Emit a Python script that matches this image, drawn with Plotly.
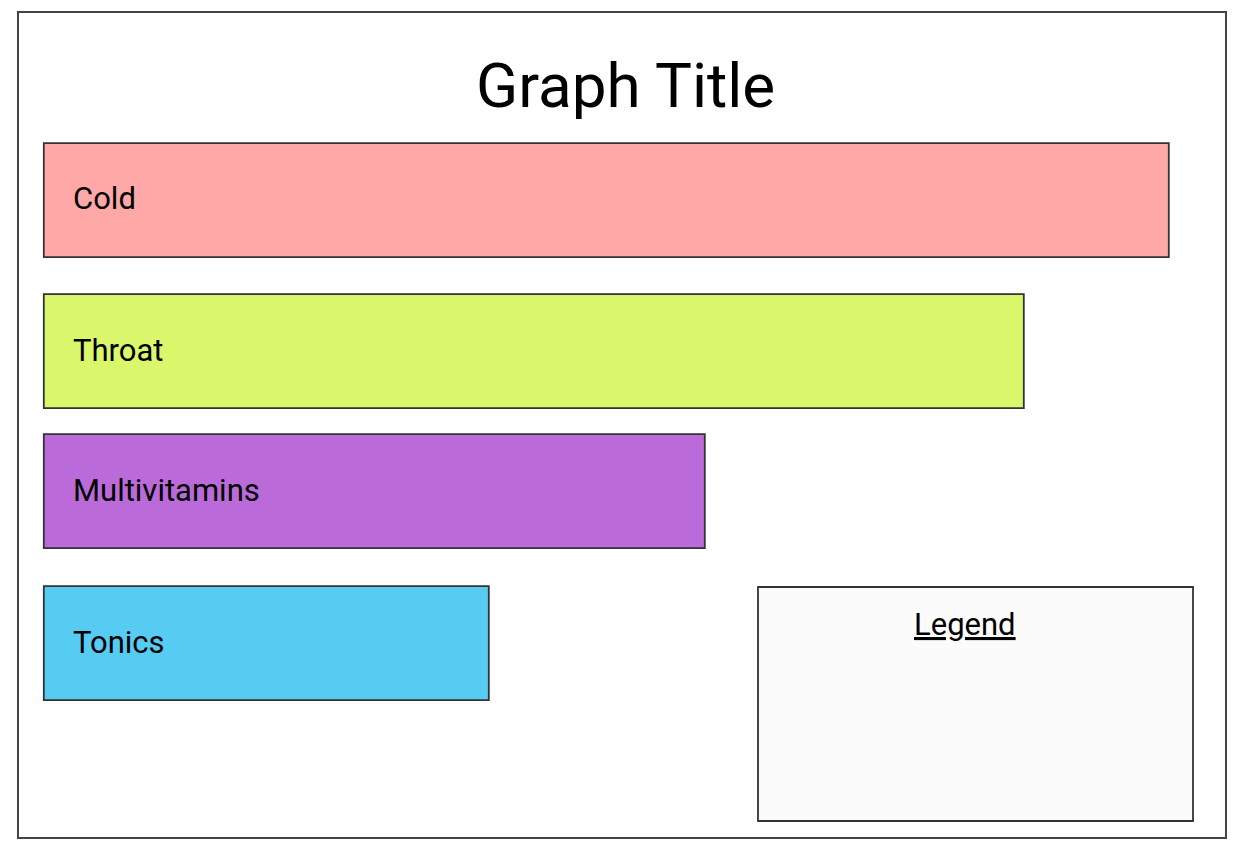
import plotly.graph_objects as go

# ---- data ----
categories = ["Cold", "Throat", "Multivitamins", "Tonics"]
values = [1125, 980, 661, 445]
colors = ["#FFA8A8", "#DAF76B", "#BB6BD9", "#56CCF2"]
title_text = "Graph Title"
legend_title = "Legend"

# ---- layout constants (pixels / row units) ----
W, H = 1243, 843
row_pos = [0, 1.025, 1.972, 3.0]   # row centers in row units
bar_width = 0.771
px_per_row = 147.83
row0_px = 200.8
plot_left, plot_right = 44.7, 1169.7
pad_px = 10  # extra room left of the bar base so the outline is not clipped

def px(x):
    return x / W

def py(y):
    return 1 - y / H

fig = go.Figure()
fig.add_trace(go.Bar(
    y=row_pos, x=values, orientation="h", base=0,
    width=bar_width,
    marker=dict(color=colors, line=dict(color="#333333", width=1.8)),
    hoverinfo="skip", showlegend=False, cliponaxis=False,
))

for cat, yp in zip(categories, row_pos):
    fig.add_annotation(x=0, y=yp, xref="x", yref="y", text=cat, showarrow=False,
                       xanchor="left", yanchor="middle", xshift=26, yshift=2,
                       font=dict(family="Roboto", size=31, color="#000000"))

shapes = [
    dict(type="rect", xref="paper", yref="paper",
         x0=px(18), x1=px(1226), y0=py(12), y1=py(838),
         line=dict(color="#444444", width=2), fillcolor="rgba(0,0,0,0)", layer="below"),
    dict(type="rect", xref="paper", yref="paper",
         x0=px(758), x1=px(1193), y0=py(587), y1=py(821),
         line=dict(color="#333333", width=1.8), fillcolor="#FBFBFB", layer="above"),
]

fig.add_annotation(x=px(625), y=py(85), xref="paper", yref="paper", text=title_text,
                   showarrow=False, xanchor="center", yanchor="middle",
                   font=dict(family="Roboto", size=62, color="#000000"))
fig.add_annotation(x=px(965), y=py(624), xref="paper", yref="paper",
                   text="<u>" + legend_title + "</u>",
                   showarrow=False, xanchor="center", yanchor="middle",
                   font=dict(family="Roboto", size=31, color="#000000"))

top_val = -row0_px / px_per_row
bot_val = (H - row0_px) / px_per_row
units_per_px = values[0] / (plot_right - plot_left)

fig.update_layout(
    width=W, height=H,
    margin=dict(l=0, r=0, t=0, b=0),
    paper_bgcolor="white", plot_bgcolor="rgba(0,0,0,0)",
    shapes=shapes,
    bargap=0,
    xaxis=dict(domain=[px(plot_left - pad_px), px(plot_right + pad_px)],
               range=[-pad_px * units_per_px, values[0] + pad_px * units_per_px],
               visible=False, showgrid=False, zeroline=False),
    yaxis=dict(domain=[0, 1], range=[bot_val, top_val], visible=False,
               showgrid=False, zeroline=False),
)

fig.write_html("out.html")
